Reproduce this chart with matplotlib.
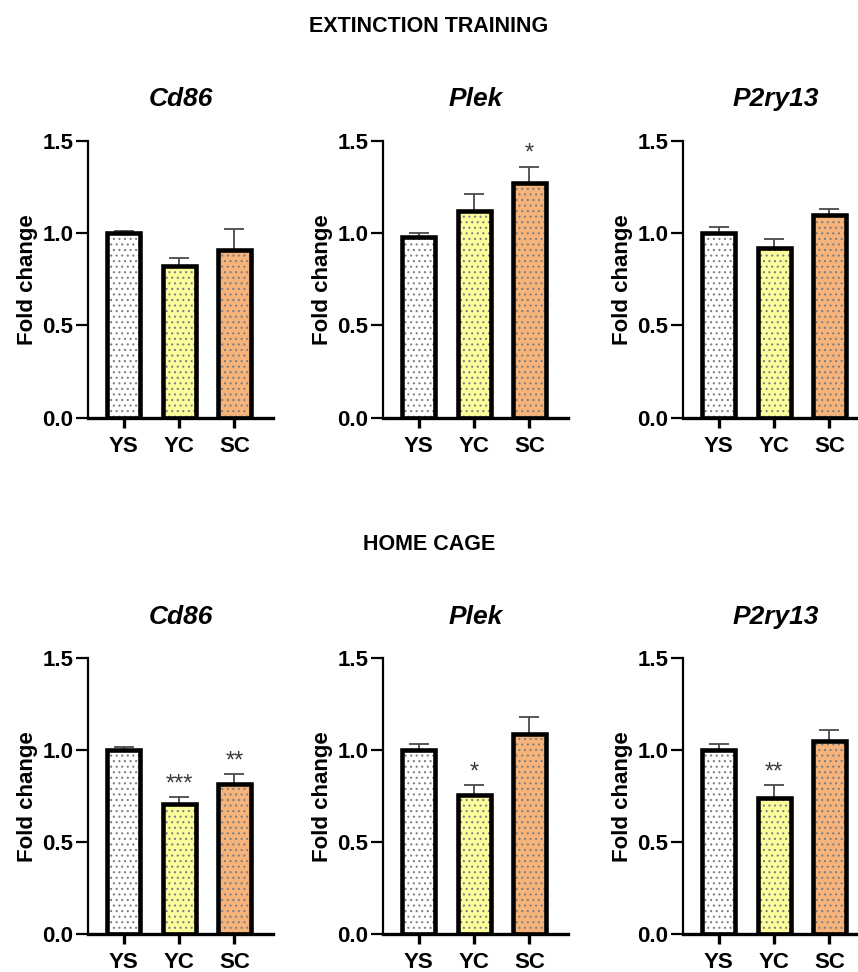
import matplotlib.pyplot as plt
import numpy as np

# groups / genes
groups = ['YS', 'YC', 'SC']
genes = ['Cd86', 'Plek', 'P2ry13']
bar_colors = ['#ffffff', '#fdfd9b', '#f6b47b']

# extinction training: one list per gene (YS, YC, SC)
ext_means = [[1.00, 0.82, 0.91],
             [0.98, 1.12, 1.27],
             [1.00, 0.92, 1.10]]
ext_sems = [[0.012, 0.045, 0.11],
            [0.02, 0.09, 0.09],
            [0.03, 0.05, 0.03]]
ext_stars = [['', '', ''],
             ['', '', '*'],
             ['', '', '']]

# home cage
home_means = [[1.00, 0.71, 0.82],
              [1.00, 0.76, 1.09],
              [1.00, 0.74, 1.05]]
home_sems = [[0.02, 0.035, 0.05],
             [0.035, 0.05, 0.09],
             [0.035, 0.07, 0.06]]
home_stars = [['', '***', '**'],
              ['', '*', ''],
              ['', '**', '']]

plt.rcParams['font.family'] = ['Liberation Sans', 'DejaVu Sans']
plt.rcParams['hatch.linewidth'] = 0.8

W, H = 858, 972
fig = plt.figure(figsize=(W / 100, H / 100), dpi=100)

lefts = [88, 383, 683]
rows = [(554.3, 277.0, ext_means, ext_sems, ext_stars),
        (37.7, 275.8, home_means, home_sems, home_stars)]


def draw_panel(ax, gene, means, sems, stars):
    x = np.arange(len(groups))
    # error bars (upper only), sit behind the bars
    ax.errorbar(x, means, yerr=[np.zeros(len(sems)), sems], fmt='none',
                ecolor='#4a4a4a', elinewidth=1.3, capsize=7, capthick=1.3, zorder=1)
    # filled, dotted bars
    ax.bar(x, means, width=0.6, color=bar_colors, edgecolor='#808080',
           linewidth=0, hatch='...', zorder=2)
    # thick black outline
    ax.bar(x, means, width=0.6, facecolor='none', edgecolor='black',
           linewidth=3.3, zorder=3)
    for xi, m, s, st in zip(x, means, sems, stars):
        if st:
            ax.text(xi, m + s + 0.01, st, ha='center', va='bottom',
                    fontsize=17, color='#3a3a3a')

    ax.set_xlim(-0.65, 2.7)
    ax.set_ylim(0, 1.5)
    ax.set_xticks(x)
    ax.set_xticklabels(groups, fontweight='bold')
    ax.set_yticks([0, 0.5, 1.0, 1.5])
    ax.set_yticklabels(['0.0', '0.5', '1.0', '1.5'], fontweight='bold')
    ax.spines['top'].set_visible(False)
    ax.spines['right'].set_visible(False)
    ax.spines['left'].set_linewidth(1.6)
    ax.spines['bottom'].set_linewidth(2.4)
    ax.tick_params(axis='y', length=8.5, width=1.6, labelsize=16, pad=2)
    ax.tick_params(axis='x', length=7, width=2.4, labelsize=16, pad=6)
    ax.set_ylabel('Fold change', fontsize=16, fontweight='bold', labelpad=3)
    ax.set_title(gene, fontsize=19, fontweight='bold', fontstyle='italic', pad=25)


for bottom, height, means, sems, stars in rows:
    for i, gene in enumerate(genes):
        ax = fig.add_axes([lefts[i] / W, bottom / H, 185 / W, height / H])
        draw_panel(ax, gene, means[i], sems[i], stars[i])

fig.text(0.5, 1 - 26 / H, 'EXTINCTION TRAINING', ha='center', va='center',
         fontsize=15.5, fontweight='bold')
fig.text(0.5, 1 - 544 / H, 'HOME CAGE', ha='center', va='center',
         fontsize=15.5, fontweight='bold')

fig.savefig('out.png', dpi=100)
